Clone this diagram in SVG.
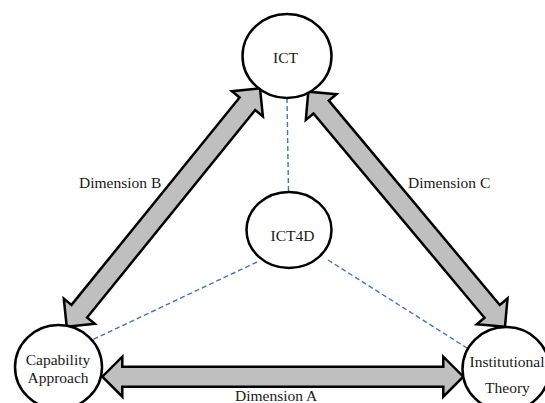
<svg xmlns="http://www.w3.org/2000/svg" width="545" height="403" viewBox="0 0 545 403">
  <style>
    .node { fill: #ffffff; stroke: #000000; stroke-width: 2.5; }
    .label { font-size: 15.5px; fill: #1a1a1a; }
    .mid { text-anchor: middle; }
    .dim { fill: #bfbfbf; stroke: #000000; stroke-width: 2.5; stroke-linejoin: miter; }
    .link { fill: none; stroke: #4472c4; stroke-width: 1.4; stroke-dasharray: 5 3; }
  </style>
  <rect width="545" height="403" fill="#ffffff"/>

  <g font-family="'Liberation Serif', 'Times New Roman', 'DejaVu Serif', serif">
  <g id="connectors">
    <!-- dashed links from the centre node -->
    <line class="link" x1="287" y1="98" x2="288.5" y2="192"/>
    <line class="link" x1="257" y1="262" x2="92" y2="340"/>
    <line class="link" x1="328" y1="260" x2="467" y2="348"/>

    <!-- Dimension A: horizontal double arrow -->
    <polygon id="dim-a" class="dim" points="102.3,376.7 122.3,396.7 122.3,386.7 443.3,386.7 443.3,396.7 463.3,376.7 443.3,356.7 443.3,366.7 122.3,366.7 122.3,356.7"/>
    <!-- Dimension B: ICT to Capability Approach -->
    <polygon id="dim-b" class="dim" points="260,88.3 262.9,116.4 255.2,110.1 87.1,317.5 94.8,323.8 66.7,326.7 63.8,298.6 71.5,304.9 239.6,97.5 231.9,91.2"/>
    <!-- Dimension C: ICT to Institutional Theory -->
    <polygon id="dim-c" class="dim" points="308.3,91.7 305.8,119.9 313.5,113.5 484.5,317.8 476.8,324.2 505,326.7 507.5,298.5 499.8,305 328.8,100.6 336.5,94.2"/>

    <text class="label" x="79" y="188">Dimension B</text>
    <text class="label" x="408" y="188">Dimension C</text>
    <text class="label" x="235" y="401">Dimension A</text>
  </g>

  <g id="node-ict">
    <ellipse class="node" cx="287" cy="56" rx="44.5" ry="42"/>
    <text class="label mid" x="285.5" y="63">ICT</text>
  </g>

  <g id="node-ict4d">
    <ellipse class="node" cx="289" cy="230" rx="42.5" ry="38"/>
    <text class="label mid" x="292.5" y="241">ICT4D</text>
  </g>

  <g id="node-capability">
    <ellipse class="node" cx="58.5" cy="367" rx="43.5" ry="42"/>
    <text class="label mid" x="58" y="365">Capability</text>
    <text class="label mid" x="58" y="383">Approach</text>
  </g>

  <g id="node-institutional">
    <ellipse class="node" cx="506" cy="369" rx="43.5" ry="42"/>
    <text class="label mid" x="507" y="367">Institutional</text>
    <text class="label mid" x="507.5" y="393">Theory</text>
  </g>
  </g>
</svg>
